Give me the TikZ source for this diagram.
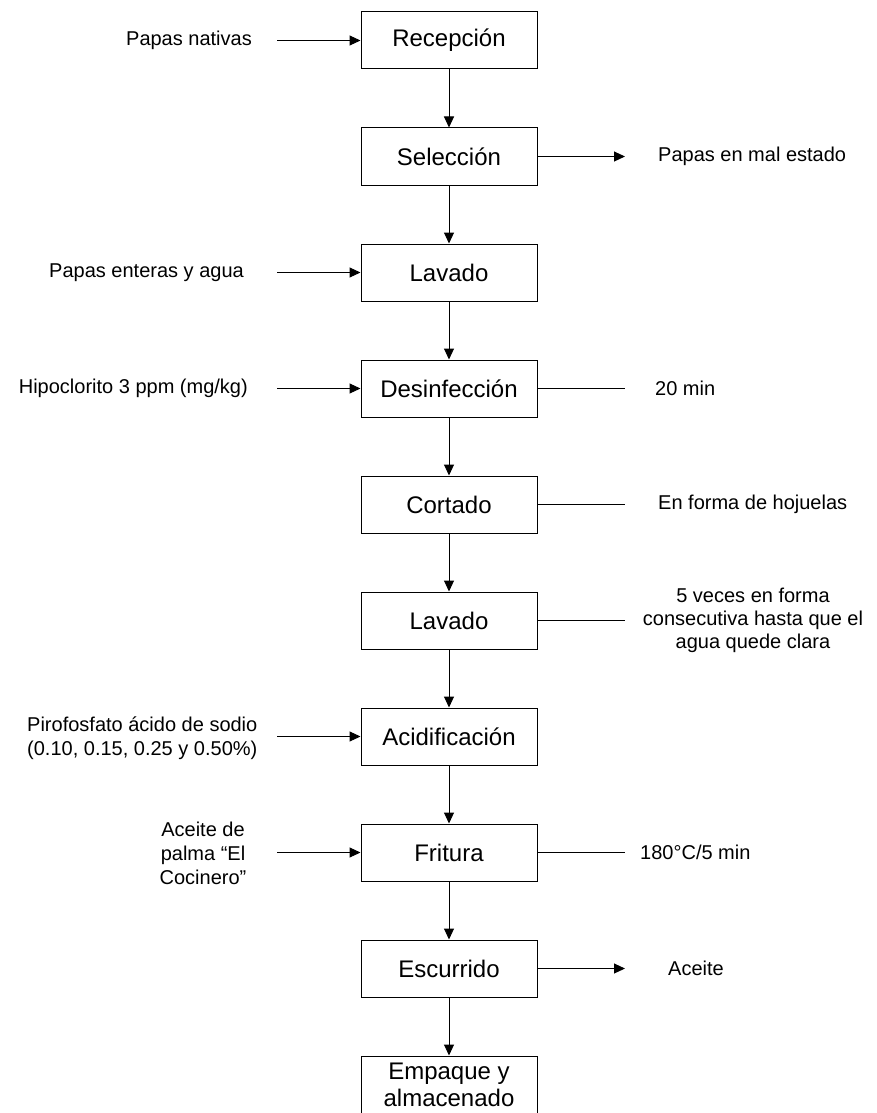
\documentclass[tikz,border=0pt]{standalone}
\usepackage{fontspec}
\setmainfont{Liberation Sans}
\usetikzlibrary{arrows.meta}
\begin{document}
\begin{tikzpicture}[x=1pt,y=-1pt,
  proc/.style={draw,line width=1pt,minimum width=176pt,minimum height=57pt,inner sep=0pt,align=center,font=\fontsize{24}{27}\selectfont},
  lbl/.style={inner sep=0pt,font=\fontsize{20}{24}\selectfont},
  flow/.style={line width=1pt,-{Triangle[length=11pt,width=10pt]}},
  plain/.style={line width=1pt}]
\useasboundingbox (0,0) rectangle (876,1113);
% process boxes
\node[proc] (b1) at (449,40.5) {Recepción};
\node[proc] (b2) at (449,156.5) {Selección};
\node[proc] (b3) at (449,272.5) {Lavado};
\node[proc] (b4) at (449,388.5) {Desinfección};
\node[proc] (b5) at (449,504.5) {Cortado};
\node[proc] (b6) at (449,620.5) {Lavado};
\node[proc] (b7) at (449,736.5) {Acidificación};
\node[proc] (b8) at (449,852.5) {Fritura};
\node[proc] (b9) at (449,968.5) {Escurrido};
\node[proc] (b10) at (449,1084.5) {Empaque y\\almacenado};
% vertical flow
\foreach \a/\b in {b1/b2,b2/b3,b3/b4,b4/b5,b5/b6,b6/b7,b7/b8,b8/b9,b9/b10}
  \draw[flow] (\a.south) -- (\b.north);
% left inputs
\node[lbl,anchor=east] (l1) at (252,40.5) {Papas nativas};
\node[lbl,anchor=east] (l3) at (244,272.5) {Papas enteras y agua};
\node[lbl,anchor=east] (l4) at (248,388.5) {Hipoclorito 3 ppm (mg/kg)};
\node[lbl,anchor=west,align=left] (l7) at (27,738) {Pirofosfato ácido de sodio\\(0.10, 0.15, 0.25 y 0.50\%)};
\node[lbl,align=center] (l8) at (203,853) {Aceite de\\palma “El\\Cocinero”};
\foreach \n/\y in {1/40.5,3/272.5,4/388.5,7/736.5,8/852.5}
  \coordinate (s\n) at (277,\y);
\draw[flow] (s1) -- (b1.west);
\draw[flow] (s3) -- (b3.west);
\draw[flow] (s4) -- (b4.west);
\draw[flow] (s7) -- (b7.west);
\draw[flow] (s8) -- (b8.west);
% right outputs
\node[lbl,anchor=west] (r2) at (658,156.5) {Papas en mal estado};
\node[lbl,anchor=west] (r4) at (655,388.5) {20 min};
\node[lbl,anchor=west] (r5) at (658,504.5) {En forma de hojuelas};
\node[lbl,align=center,font=\fontsize{20}{23}\selectfont] (r6) at (753,620.5) {5 veces en forma\\consecutiva hasta que el\\agua quede clara};
\node[lbl,anchor=west] (r8) at (640,852.5) {180°C/5 min};
\node[lbl,anchor=west] (r9) at (668,968.5) {Aceite};
\foreach \n/\y in {2/156.5,4/388.5,5/504.5,6/620.5,8/852.5,9/968.5}
  \coordinate (e\n) at (625,\y);
\draw[flow] (b2.east) -- (e2);
\draw[plain] (b4.east) -- (e4);
\draw[plain] (b5.east) -- (e5);
\draw[plain] (b6.east) -- (e6);
\draw[plain] (b8.east) -- (e8);
\draw[flow] (b9.east) -- (e9);
\end{tikzpicture}
\end{document}
